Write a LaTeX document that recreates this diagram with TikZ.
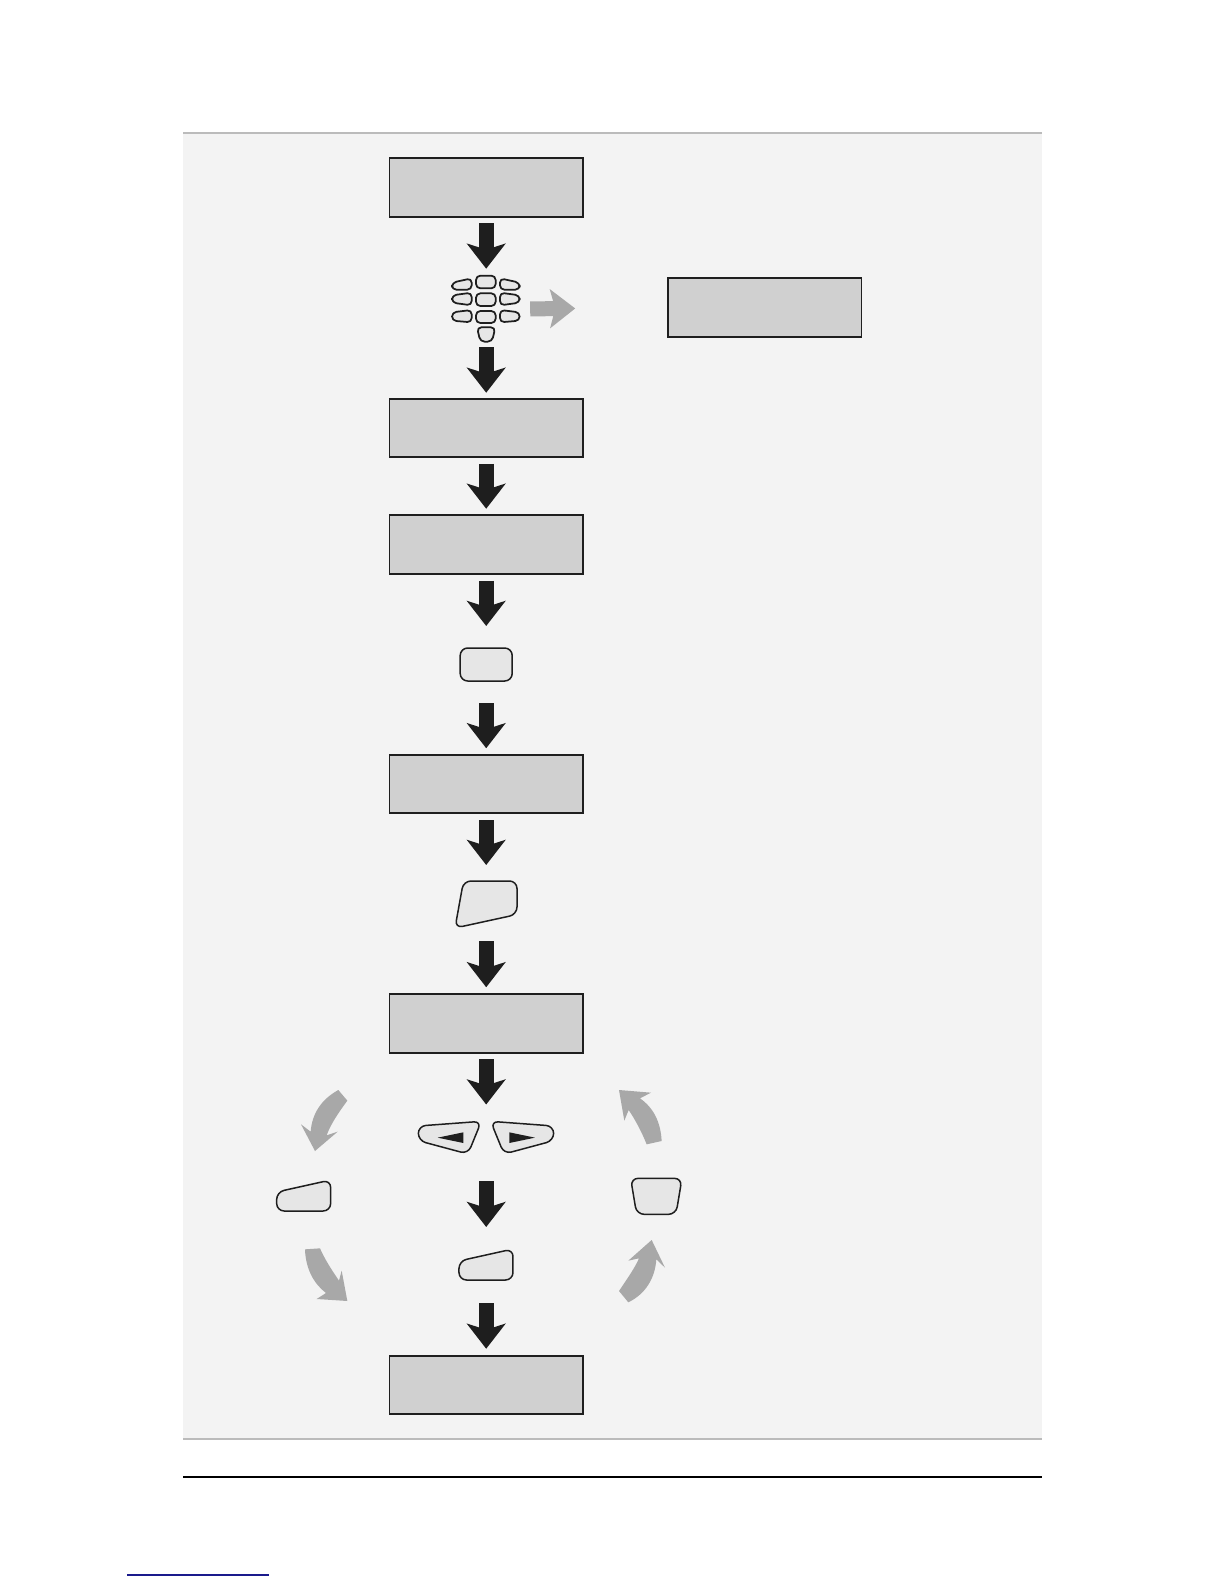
\documentclass[tikz,border=0pt]{standalone}
\usetikzlibrary{arrows.meta}
\definecolor{panel}{HTML}{F3F3F3}
\definecolor{panelline}{HTML}{BBBBBB}
\definecolor{screen}{HTML}{D0D0D0}
\definecolor{keyfill}{HTML}{E6E6E6}
\definecolor{ink}{HTML}{1E1E1E}
\definecolor{pale}{HTML}{A8A8A8}
\definecolor{linkblue}{HTML}{1A1A8C}
\tikzset{
  screenbox/.style={draw=ink,fill=screen,line width=1.1pt,minimum width=116pt,minimum height=35.2pt,inner sep=0pt},
  keyspot/.style 2 args={minimum width=#1*0.6pt,minimum height=#2*0.6pt,inner sep=0pt,outer sep=0pt},
  keyface/.style={draw=ink,fill=keyfill,line width=0.9pt,line join=round},
  padface/.style={draw=ink,fill=keyfill,line width=1.05pt,line join=round,rounded corners=2.6pt},
  bigface/.style={keyface,rounded corners=4.5pt},
  blockarrow/.style 2 args={draw=ink,line width=9pt,shorten <=#1*0.6pt,shorten >=#2*0.6pt,
    -{Stealth[length=15pt,width=23pt,inset=3.6pt]}},
  palearrow/.style 2 args={draw=pale,line width=9pt,shorten <=#1*0.6pt,shorten >=#2*0.6pt,
    -{Stealth[length=15pt,width=23pt,inset=3pt]}},
  swoop/.style={fill=pale,draw=none},
  zoomed/.style={x=0.2pt,y=-0.2pt}
}
\begin{document}
\begin{tikzpicture}[x=0.6pt,y=-0.6pt]
\useasboundingbox (0,0) rectangle (1224,1584);
\fill[white] (0,0) rectangle (1224,1584);
% panel and rules
\fill[panel] (183,133) rectangle (1042,1439);
\draw[panelline,line width=0.9pt] (183,133) -- (1042,133);
\draw[panelline,line width=0.9pt] (183,1439) -- (1042,1439);
\draw[black,line width=0.8pt] (183,1477) -- (1042,1477);
\draw[linkblue,line width=0.7pt] (127,1575) -- (269,1575);
% screens
\node[screenbox] (s1) at (486.2,187.5) {};
\node[screenbox] (s2) at (764.8,307.5) {};
\node[screenbox] (s3) at (486.2,428) {};
\node[screenbox] (s4) at (486.2,544.5) {};
\node[screenbox] (s5) at (486.2,784) {};
\node[screenbox] (s6) at (486.2,1023.5) {};
\node[screenbox] (s7) at (486.2,1385) {};
% key positions
\node[keyspot={68}{66}] (pad) at (486.2,309) {};
\node[keyspot={52}{33},draw=ink,fill=keyfill,line width=0.9pt,rounded corners=4.5pt] (enter) at (486.2,664.5) {};
\node[keyspot={62}{48}] (skew) at (486.2,905) {};
\node[keyspot={130}{33}] (pair) at (486.2,1138) {};
\node[keyspot={53}{30}] (soft) at (486.2,1266) {};
% keypad
\begin{scope}[shift={(267pt,-162pt)},zoomed]
\draw[padface] (21,38) -- (80,25) -- (80,59) -- (21,59) -- cycle;
\draw[padface] (93,17) rectangle (152,55);
\draw[padface] (224,38) -- (165,25) -- (165,59) -- (224,59) -- cycle;
\draw[padface] (21,76) -- (80,68) -- (80,106) -- (21,98) -- cycle;
\draw[padface] (93,70) rectangle (152,108);
\draw[padface] (224,76) -- (165,68) -- (165,106) -- (224,98) -- cycle;
\draw[padface] (21,127) -- (80,120) -- (80,157) -- (21,152) -- cycle;
\draw[padface] (93,123) rectangle (152,159);
\draw[padface] (224,127) -- (165,120) -- (165,157) -- (224,152) -- cycle;
\draw[padface] (96,172) -- (151,172) -- (141,215) -- (106,215) -- cycle;
\end{scope}
% skewed key
\draw[bigface] (463.5,881) -- (517,881) -- (517,914.5) -- (455,928) -- cycle;
\begin{scope}[shift={(156pt,-642pt)},zoomed]
% direction pair
\draw[keyface,rounded corners=4.5pt] (475,168) -- (664,154) -- (624,252) -- (475,212) -- cycle;
\draw[keyface,rounded corners=4.5pt] (881,168) -- (692,154) -- (732,252) -- (881,212) -- cycle;
\fill[ink] (533,203) -- (610,187) -- (610,219) -- cycle;
\fill[ink] (825,203) -- (748,187) -- (748,219) -- cycle;
% soft keys
\draw[bigface] (50,366) -- (212,330) -- (212,423) -- (50,423) -- cycle;
\draw[bigface] (597,573) -- (759,537) -- (759,630) -- (597,630) -- cycle;
\draw[bigface] (1112,325) -- (1266,325) -- (1248,433) -- (1130,433) -- cycle;
\end{scope}
% curved pale arrows
\begin{scope}[shift={(174pt,-648pt)},zoomed]
\fill[swoop] (145,30) .. controls (94,58) and (66,101) .. (62,155) -- (33,133) -- (75,213) -- (143,155) -- (110,166) .. controls (122,132) and (147,96) .. (172,62) -- cycle;
\end{scope}
\begin{scope}[shift={(174pt,-741pt)},zoomed]
\fill[swoop] (45,43) .. controls (47,101) and (71,146) .. (108,174) -- (80,192) -- (172,198) -- (155,107) -- (147,137) .. controls (125,105) and (104,72) .. (90,40) -- cycle;
\end{scope}
\begin{scope}[shift={(360pt,-648pt)},zoomed]
\fill[swoop] (185,183) .. controls (182,129) and (163,85) .. (120,55) -- (153,38) -- (57,30) -- (73,122) -- (86,90) .. controls (107,121) and (126,158) .. (140,193) -- cycle;
\end{scope}
\begin{scope}[shift={(360pt,-738pt)},zoomed]
\fill[swoop] (57,183) .. controls (84,143) and (106,111) .. (117,85) -- (85,92) -- (155,30) -- (195,113) -- (169,88) .. controls (165,146) and (136,192) .. (85,217) -- cycle;
\end{scope}
% connectors
\draw[blockarrow={5.7}{7.3}] (s1.south) -- (pad.north);
\draw[palearrow={10}{92}] (pad.east) -- (s2.west);
\draw[blockarrow={5}{5}] (pad.south) -- (s3.north);
\draw[blockarrow={5.5}{5.5}] (s3.south) -- (s4.north);
\draw[blockarrow={6}{22}] (s4.south) -- (enter.north);
\draw[blockarrow={22}{5.5}] (enter.south) -- (s5.north);
\draw[blockarrow={6}{16}] (s5.south) -- (skew.north);
\draw[blockarrow={12}{6}] (skew.south) -- (s6.north);
\draw[blockarrow={5.6}{17}] (s6.south) -- (pair.north);
\draw[blockarrow={26.5}{24}] (pair.south) -- (soft.north);
\draw[blockarrow={22}{6}] (soft.south) -- (s7.north);
\end{tikzpicture}
\end{document}
